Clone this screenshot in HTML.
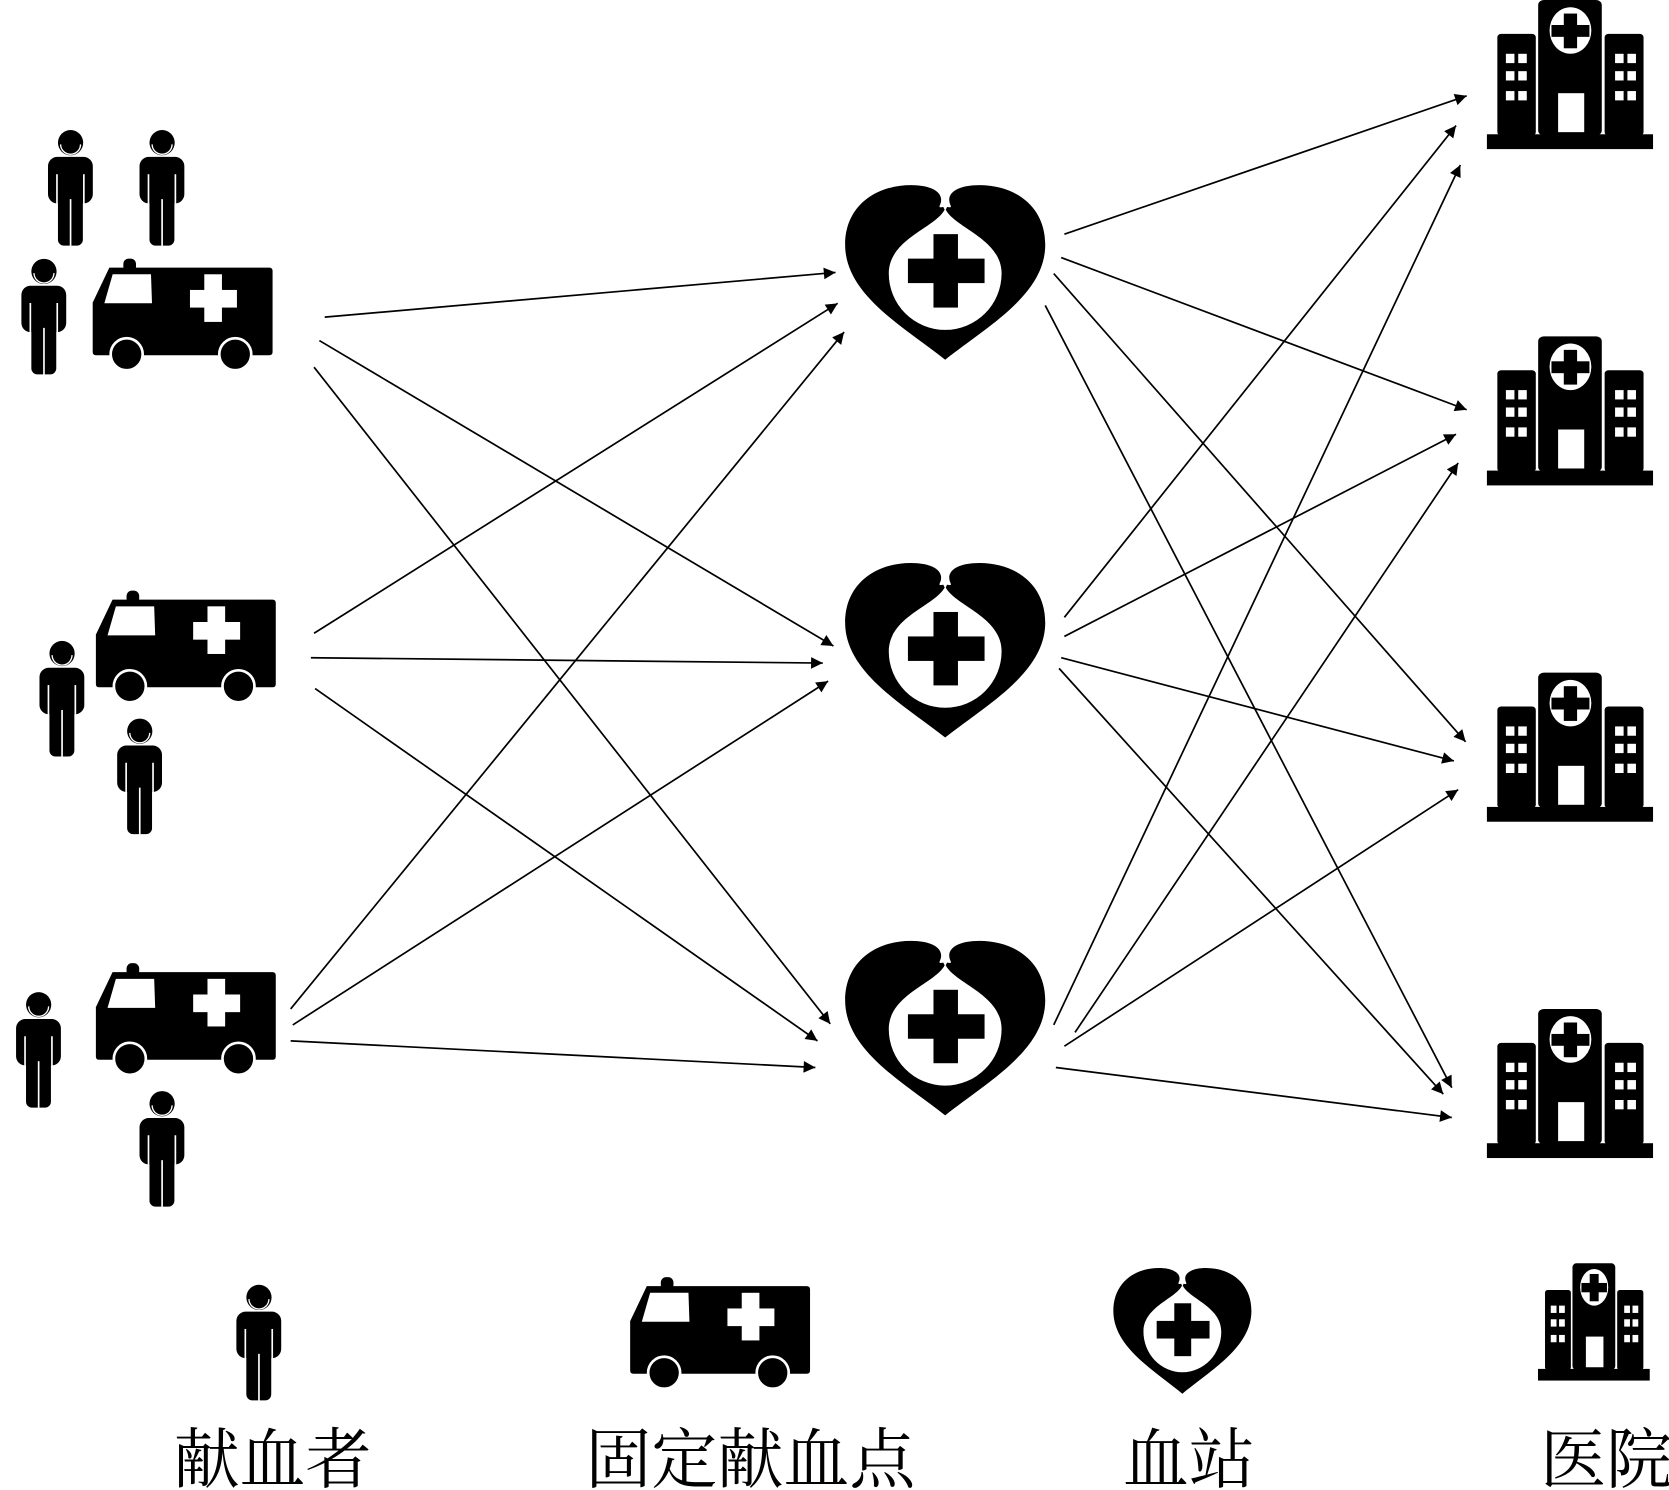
<!DOCTYPE html>
<html><head><meta charset="utf-8"><style>html,body{margin:0;padding:0;background:#fff;overflow:hidden}svg{display:block}</style></head>
<body>
<svg width="1669" height="1490" viewBox="0 0 1568 1400" xmlns="http://www.w3.org/2000/svg">
<defs>
<marker id="ah" viewBox="0 0 10 10" refX="10" refY="5" markerWidth="15" markerHeight="11" markerUnits="userSpaceOnUse" orient="auto">
<path d="M0,0 L10,5 L0,10 Z" fill="#000"/>
</marker>
<g id="person">
 <g transform="scale(0.312)">
  <circle cx="68" cy="45" r="38" fill="#000"/>
  <path d="M38,50 A30,30 0 0 0 98,50" fill="none" stroke="#fff" stroke-width="4"/>
  <rect x="0" y="88" width="135" height="140" rx="28" fill="#000"/>
  <rect x="30" y="180" width="75" height="175" rx="18" fill="#000"/>
  <line x1="27" y1="140" x2="27" y2="230" stroke="#fff" stroke-width="5"/>
  <line x1="108" y1="140" x2="108" y2="230" stroke="#fff" stroke-width="5"/>
  <line x1="68" y1="215" x2="68" y2="356" stroke="#fff" stroke-width="5"/>
 </g>
</g>
<g id="amb">
 <g transform="scale(0.313)">
  <rect x="92" y="0" width="38" height="40" rx="16" fill="#000"/>
  <path d="M50,27 L530,27 Q540,27 540,37 L540,280 Q540,290 530,290 L10,290 Q0,290 0,280 L0,132 Z" fill="#000"/>
  <polygon points="35,134 60,47 175,47 178,134" fill="#fff"/>
  <rect x="335" y="47" width="53" height="143" fill="#fff"/>
  <rect x="292" y="94" width="141" height="53" fill="#fff"/>
  <circle cx="102" cy="287" r="48" fill="#000" stroke="#fff" stroke-width="8"/>
  <circle cx="428" cy="287" r="48" fill="#000" stroke="#fff" stroke-width="8"/>
 </g>
</g>
<g id="heart">
 <path d="M94,166 C55,135 0,105 0,58 C0,22 28,2 62,2 C80,2 92,8 90,18 C89,22 86,24 94,22 C102,24 99,22 98,18 C96,8 108,2 126,2 C160,2 188,22 188,58 C188,105 133,135 94,166 Z" fill="#000"/>
 <path d="M94,24 C102,42 147,52 147,85 A53,53 0 1 1 41,85 C41,52 86,42 94,24 Z" fill="#fff"/>
 <path d="M94,0 L90,18 L94,26 L98,18 Z" fill="#fff"/>
 <rect x="83" y="48" width="23" height="69" fill="#000"/>
 <rect x="59" y="71" width="72" height="23" fill="#000"/>
</g>
<g id="hosp">
 <rect x="0" y="317" width="350" height="35" fill="#000"/>
 <rect x="22" y="80" width="81" height="240" rx="8" fill="#000"/>
 <rect x="248" y="80" width="82" height="240" rx="8" fill="#000"/>
 <rect x="108" y="0" width="134" height="320" rx="12" fill="#000"/>
 <ellipse cx="176" cy="72" rx="44" ry="55" fill="#fff"/>
 <rect x="162" y="32" width="28" height="82" fill="#000"/>
 <rect x="136" y="59" width="80" height="28" fill="#000"/>
 <rect x="150" y="220" width="55" height="92" fill="#fff"/>
 <g fill="#fff">
  <rect x="40" y="127" width="18" height="22"/><rect x="66" y="127" width="18" height="22"/>
  <rect x="40" y="168" width="18" height="22"/><rect x="66" y="168" width="18" height="22"/>
  <rect x="40" y="215" width="18" height="22"/><rect x="66" y="215" width="18" height="22"/>
  <rect x="270" y="127" width="18" height="22"/><rect x="296" y="127" width="18" height="22"/>
  <rect x="270" y="168" width="18" height="22"/><rect x="296" y="168" width="18" height="22"/>
  <rect x="270" y="215" width="18" height="22"/><rect x="296" y="215" width="18" height="22"/>
 </g>
</g>
</defs>

<use href="#person" x="45" y="120"/>
<use href="#person" x="131" y="120"/>
<use href="#person" x="20" y="241"/>
<use href="#person" x="37" y="600"/>
<use href="#person" x="110" y="673"/>
<use href="#person" x="15" y="930"/>
<use href="#person" x="131" y="1023"/>
<use href="#person" x="222" y="1205"/>

<use href="#amb" x="87" y="243"/>
<use href="#amb" x="90" y="555"/>
<use href="#amb" x="90" y="905"/>
<use href="#amb" x="592" y="1200"/>

<use href="#heart" x="794" y="172"/>
<use href="#heart" x="794" y="527"/>
<use href="#heart" x="794" y="882"/>
<g transform="translate(1046,1190) scale(0.69,0.72)"><use href="#heart"/></g>

<g transform="translate(1397,0) scale(0.446,0.398)"><use href="#hosp"/></g>
<g transform="translate(1397,316) scale(0.446,0.398)"><use href="#hosp"/></g>
<g transform="translate(1397,632) scale(0.446,0.398)"><use href="#hosp"/></g>
<g transform="translate(1397,948) scale(0.446,0.398)"><use href="#hosp"/></g>
<g transform="translate(1445,1187) scale(0.3,0.313)"><use href="#hosp"/></g>

<g stroke="#000" stroke-width="1.6" marker-end="url(#ah)" fill="none">
 <line x1="305" y1="298" x2="785" y2="256"/>
 <line x1="300" y1="320" x2="783" y2="607"/>
 <line x1="295" y1="345" x2="780" y2="962"/>
 <line x1="295" y1="595" x2="787" y2="285"/>
 <line x1="292" y1="618" x2="773" y2="623"/>
 <line x1="296" y1="647" x2="768" y2="978"/>
 <line x1="273" y1="948" x2="793" y2="312"/>
 <line x1="275" y1="963" x2="778" y2="640"/>
 <line x1="273" y1="978" x2="766" y2="1003"/>

 <line x1="1000" y1="220" x2="1378" y2="90"/>
 <line x1="997" y1="242" x2="1378" y2="385"/>
 <line x1="990" y1="257" x2="1377" y2="697"/>
 <line x1="982" y1="287" x2="1364" y2="1022"/>

 <line x1="1000" y1="580" x2="1368" y2="118"/>
 <line x1="1000" y1="598" x2="1368" y2="408"/>
 <line x1="997" y1="618" x2="1366" y2="715"/>
 <line x1="995" y1="628" x2="1356" y2="1028"/>

 <line x1="990" y1="963" x2="1372" y2="155"/>
 <line x1="1010" y1="970" x2="1370" y2="435"/>
 <line x1="1000" y1="983" x2="1370" y2="742"/>
 <line x1="992" y1="1003" x2="1364" y2="1050"/>
</g>

<g font-family="'Liberation Serif','Noto Serif CJK SC',serif" font-size="62" fill="#000">
 <text x="163" y="1393">献血者</text>
 <text x="550" y="1393">固定献血点</text>
 <text x="1055" y="1393">血站</text>
 <text x="1447" y="1393">医院</text>
</g>
</svg>
</body></html>
